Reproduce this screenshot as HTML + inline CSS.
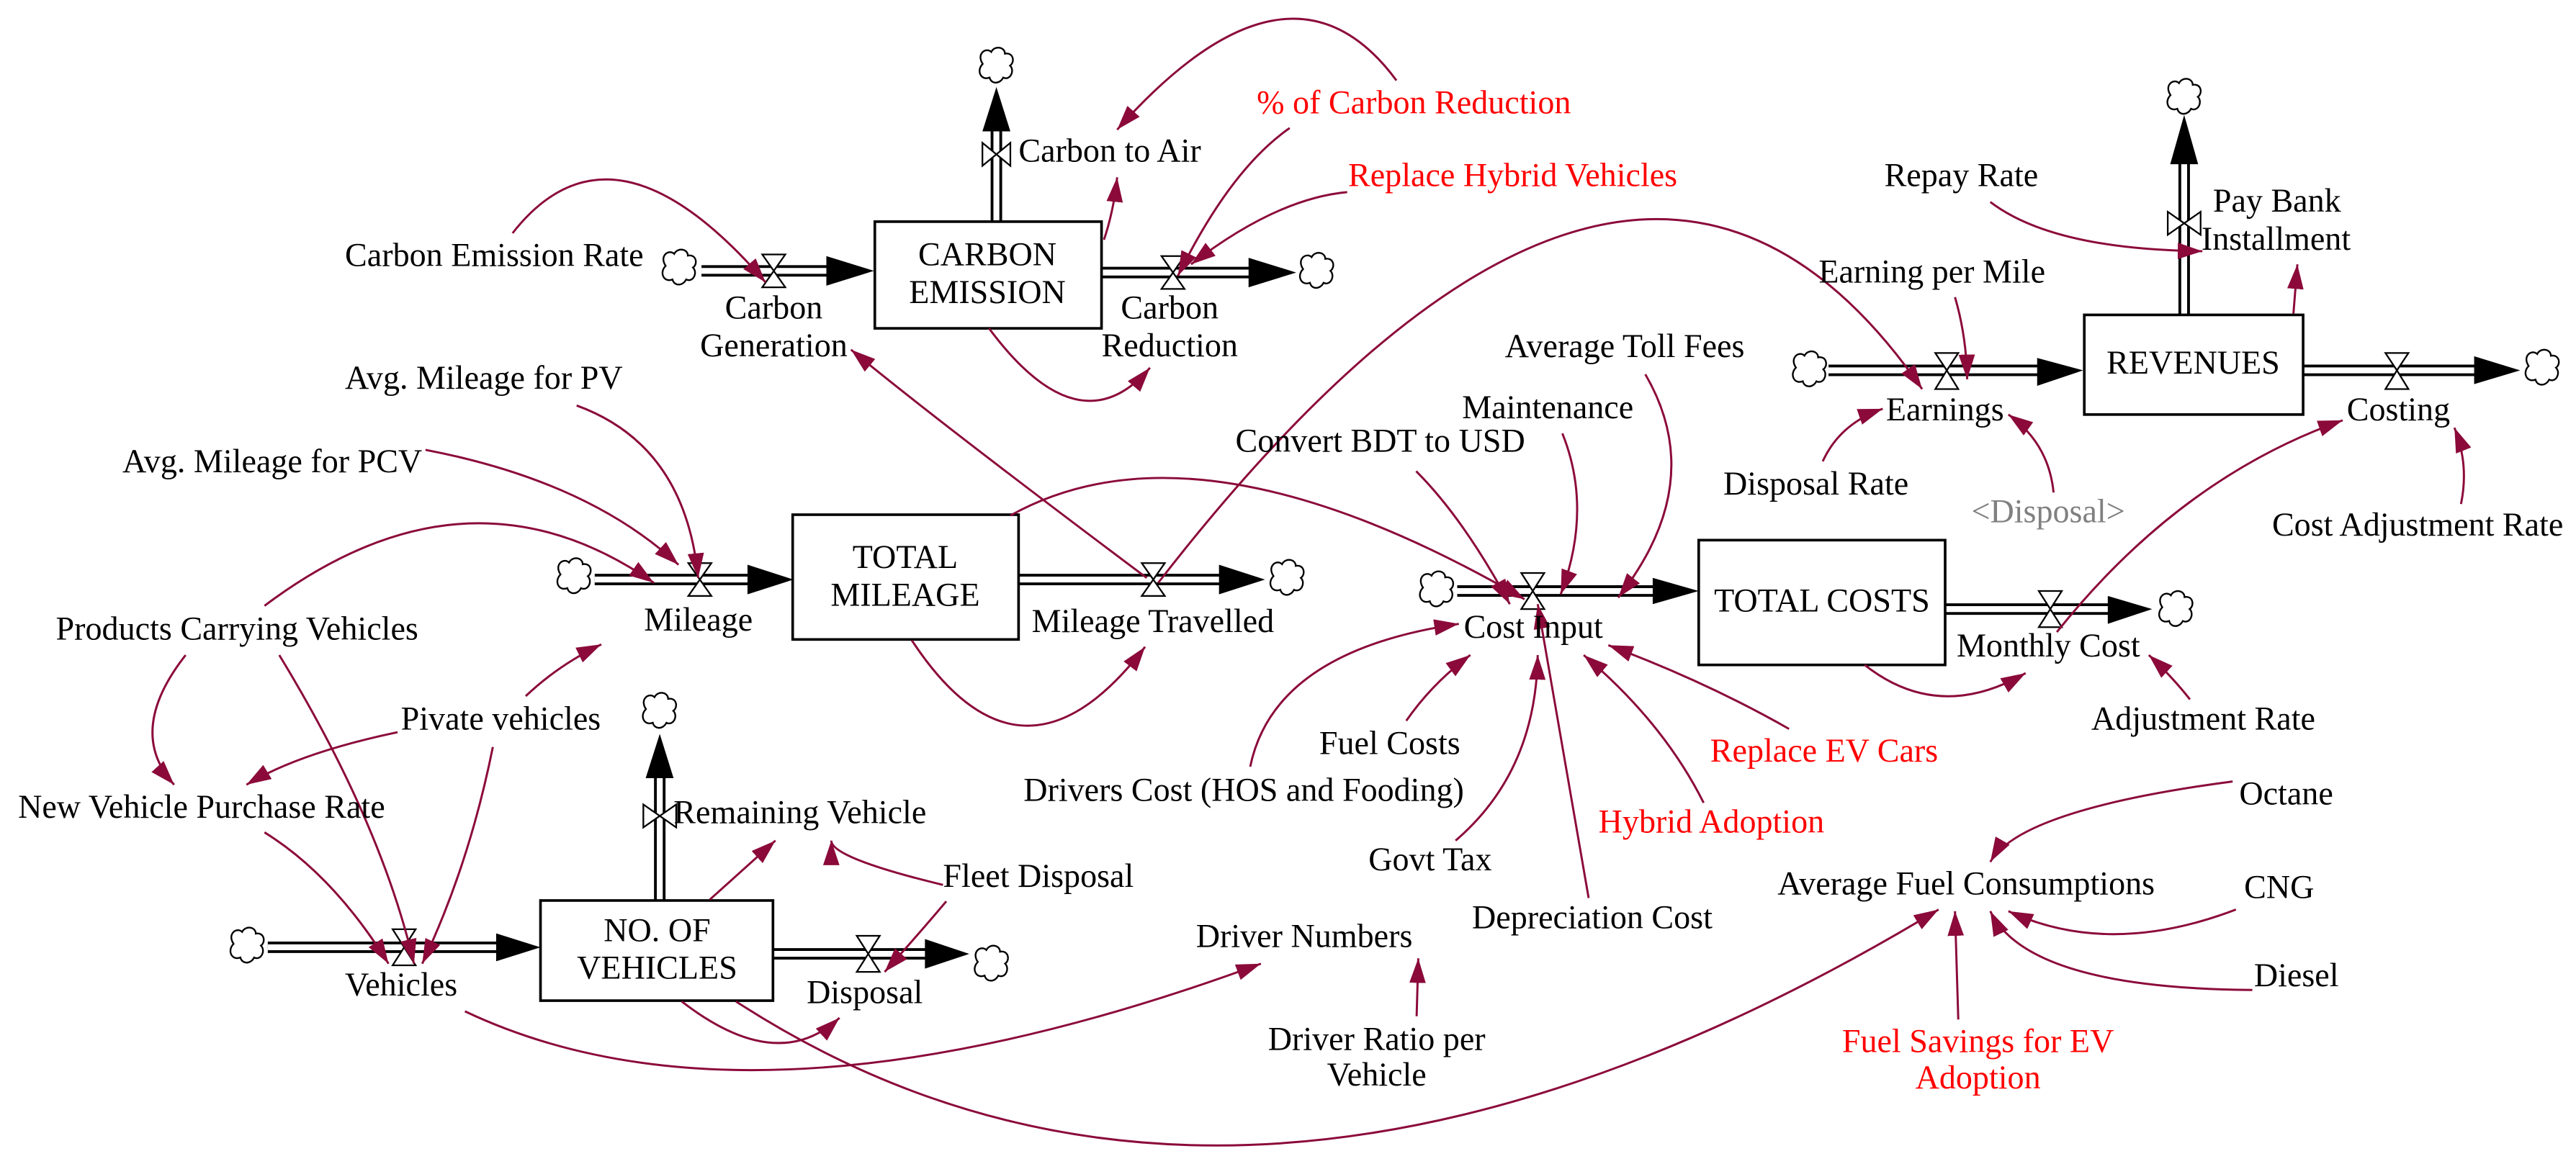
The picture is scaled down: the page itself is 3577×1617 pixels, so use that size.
<!DOCTYPE html>
<html><head><meta charset="utf-8"><style>
html,body{margin:0;padding:0;background:#fff;}
svg{display:block;}
text{font-family:"Liberation Serif","Times New Roman",Times,"DejaVu Serif",serif;font-size:20.2px;fill:#000;}
.r{fill:#ff0000;}
.g{fill:#808080;}
.m{text-anchor:middle;}
.l{fill:none;stroke:#8B0A3A;stroke-width:1.3;marker-end:url(#ah);}
.pipe{stroke:#000;stroke-width:7;}
.pipew{stroke:#fff;stroke-width:3.6;}
.box{fill:#fff;stroke:#000;stroke-width:1.6;}
.v{fill:#fff;stroke:#000;stroke-width:1;}
.cl{fill:#fff;stroke:#000;stroke-width:1;}
</style></head><body>
<svg width="3577" height="1617" viewBox="0 0 1568 709" preserveAspectRatio="none" xmlns="http://www.w3.org/2000/svg">
<defs>
<marker id="ah" markerUnits="userSpaceOnUse" markerWidth="18" markerHeight="12" refX="15" refY="5" orient="auto">
<path d="M0,0 L15,5 L0,10 Z" fill="#8B0A3A"/>
</marker>
<symbol id="cloud" viewBox="-13 -11 26 22" overflow="visible">
<path class="cl" d="M-8,-2 c-4,-6 2,-10 5,-7 c2,-4 8,-3 8,1 c5,-1 6,5 3,7 c3,3 0,9 -4,7 c-2,4 -7,4 -8,0 c-5,2 -8,-4 -4,-8 z"/>
</symbol>
</defs>
<rect width="1568" height="709" fill="#fff"/>

<g>
<line class="pipe" x1="427" y1="165" x2="505" y2="165"/><line class="pipew" x1="427" y1="165" x2="505" y2="165"/>
<path d="M503,156 L532,165 L503,174 Z"/>
<use href="#cloud" x="400" y="152" width="27" height="24"/>
<path class="v" d="M464,155 L478,155 L471,165 Z M464,175 L478,175 L471,165 Z"/>
<line class="pipe" x1="670" y1="166" x2="762" y2="166"/><line class="pipew" x1="670" y1="166" x2="762" y2="166"/>
<path d="M760,157 L789,166 L760,175 Z"/>
<use href="#cloud" x="788" y="154" width="27" height="24"/>
<path class="v" d="M707,156 L721,156 L714,166 Z M707,176 L721,176 L714,166 Z"/>
<line class="pipe" x1="362" y1="353" x2="457" y2="353"/><line class="pipew" x1="362" y1="353" x2="457" y2="353"/>
<path d="M455,344 L483,353 L455,362 Z"/>
<use href="#cloud" x="336" y="340" width="27" height="24"/>
<path class="v" d="M419,343 L433,343 L426,353 Z M419,363 L433,363 L426,353 Z"/>
<line class="pipe" x1="620" y1="353" x2="744" y2="353"/><line class="pipew" x1="620" y1="353" x2="744" y2="353"/>
<path d="M742,344 L770,353 L742,362 Z"/>
<use href="#cloud" x="770" y="341" width="27" height="24"/>
<path class="v" d="M695,343 L709,343 L702,353 Z M695,363 L709,363 L702,353 Z"/>
<line class="pipe" x1="163" y1="577" x2="304" y2="577"/><line class="pipew" x1="163" y1="577" x2="304" y2="577"/>
<path d="M302,568.5 L329,577 L302,585.5 Z"/>
<use href="#cloud" x="137" y="565" width="27" height="24"/>
<path class="v" d="M239,566 L253,566 L246,577 Z M239,588 L253,588 L246,577 Z"/>
<line class="pipe" x1="471" y1="581" x2="565" y2="581"/><line class="pipew" x1="471" y1="581" x2="565" y2="581"/>
<path d="M563,572 L590,581 L563,590 Z"/>
<use href="#cloud" x="590" y="576" width="27" height="24"/>
<path class="v" d="M521.5,570 L535.5,570 L528.5,581 Z M521.5,592 L535.5,592 L528.5,581 Z"/>
<line class="pipe" x1="887" y1="360" x2="1008" y2="360"/><line class="pipew" x1="887" y1="360" x2="1008" y2="360"/>
<path d="M1006,352 L1034,360 L1006,368 Z"/>
<use href="#cloud" x="861" y="348" width="27" height="24"/>
<path class="v" d="M926,349 L940,349 L933,360 Z M926,371 L940,371 L933,360 Z"/>
<line class="pipe" x1="1184" y1="371" x2="1285" y2="371"/><line class="pipew" x1="1184" y1="371" x2="1285" y2="371"/>
<path d="M1283,363 L1310,371 L1283,380 Z"/>
<use href="#cloud" x="1311" y="360" width="27" height="24"/>
<path class="v" d="M1241,360 L1255,360 L1248,371 Z M1241,382 L1255,382 L1248,371 Z"/>
<line class="pipe" x1="1113" y1="225.6" x2="1242" y2="225.6"/><line class="pipew" x1="1113" y1="225.6" x2="1242" y2="225.6"/>
<path d="M1240,218 L1268,225.6 L1240,235 Z"/>
<use href="#cloud" x="1088" y="214" width="27" height="24"/>
<path class="v" d="M1178,215 L1192,215 L1185,225.6 Z M1178,237 L1192,237 L1185,225.6 Z"/>
<line class="pipe" x1="1402" y1="225.6" x2="1508" y2="225.6"/><line class="pipew" x1="1402" y1="225.6" x2="1508" y2="225.6"/>
<path d="M1506,217 L1534,225.6 L1506,234 Z"/>
<use href="#cloud" x="1534" y="213" width="27" height="24"/>
<path class="v" d="M1452,215 L1466,215 L1459,225.6 Z M1452,237 L1466,237 L1459,225.6 Z"/>
</g>

<g>
<line class="pipe" x1="606.5" y1="136" x2="606.5" y2="78"/><line class="pipew" x1="606.5" y1="136" x2="606.5" y2="78"/>
<path d="M598,80 L606.5,53 L615,80 Z"/>
<use href="#cloud" x="593" y="29" width="27" height="24"/>
<path class="v" d="M598,87 L598,101 L606.5,94 Z M615,87 L615,101 L606.5,94 Z"/>
<line class="pipe" x1="401.6" y1="549" x2="401.6" y2="472"/><line class="pipew" x1="401.6" y1="549" x2="401.6" y2="472"/>
<path d="M393,474 L401.6,447 L410,474 Z"/>
<use href="#cloud" x="388" y="422" width="27" height="24"/>
<path class="v" d="M391.6,490 L391.6,504 L401.6,497 Z M411.6,490 L411.6,504 L401.6,497 Z"/>
<line class="pipe" x1="1329.5" y1="192" x2="1329.5" y2="98"/><line class="pipew" x1="1329.5" y1="192" x2="1329.5" y2="98"/>
<path d="M1321,100 L1329.5,70 L1338,100 Z"/>
<use href="#cloud" x="1316" y="48" width="27" height="24"/>
<path class="v" d="M1319.5,129 L1319.5,143 L1329.5,136 Z M1339.5,129 L1339.5,143 L1329.5,136 Z"/>
</g>

<rect class="box" x="532.5" y="135" width="138" height="65"/>
<rect class="box" x="482.5" y="313.5" width="137.5" height="76"/>
<rect class="box" x="329" y="548.5" width="141.5" height="61"/>
<rect class="box" x="1034" y="329" width="150" height="76"/>
<rect class="box" x="1268.7" y="191.8" width="133.2" height="60.7"/>

<g>
<path class="l" d="M312,142 Q373,64 466,172"/>
<path class="l" d="M672,146 Q678,128 680,108"/>
<path class="l" d="M602,200 Q657,274 700,224"/>
<path class="l" d="M698,352 Q570,256 518,213"/>
<path class="l" d="M850,49 Q785,-39 680,79"/>
<path class="l" d="M785,78 Q749,103 717,168"/>
<path class="l" d="M820,117 Q777,121 725,161"/>
<path class="l" d="M351,247 Q417,271 425,352"/>
<path class="l" d="M259,274 Q358,293 413,344"/>
<path class="l" d="M161,369 Q284.5,276 398,355"/>
<path class="l" d="M615,314 Q730,250 928,365"/>
<path class="l" d="M705,355 Q994,-18 1170,237"/>
<path class="l" d="M555,390 Q622,492 697,394"/>
<path class="l" d="M113,399 Q76.5,445.5 106,478"/>
<path class="l" d="M170,399 Q232,501 252,587"/>
<path class="l" d="M320,424 Q340,405 366,392.5"/>
<path class="l" d="M242,446 Q182,458.6 150,478"/>
<path class="l" d="M300,455 Q285.5,527 257,587"/>
<path class="l" d="M161,507 Q203,533 236.5,587"/>
<path class="l" d="M432,548 L472,512"/>
<path class="l" d="M574,539 Q506,522.5 506,512"/>
<path class="l" d="M576,549 Q560,568 538.5,592"/>
<path class="l" d="M415,610 Q473,655 511,620"/>
<path class="l" d="M283,616 Q460,700 767.5,587"/>
<path class="l" d="M448,610 Q756,810 1180,554"/>
<path class="l" d="M761,467 Q775.5,396.5 888,380"/>
<path class="l" d="M856,439 Q872,416 895,399"/>
<path class="l" d="M886,512 Q935,470 936,399"/>
<path class="l" d="M967,547 L936,368"/>
<path class="l" d="M1037,489 Q1012.5,440 964,399"/>
<path class="l" d="M1089,444 Q1039,415.5 979,393"/>
<path class="l" d="M1001.5,228 Q1040,294 985,364"/>
<path class="l" d="M951,264 Q969.5,310 950,362"/>
<path class="l" d="M862,287 Q891,316 919,368"/>
<path class="l" d="M1135,405 Q1180,440.5 1233,410"/>
<path class="l" d="M1333,426 Q1322,412 1308,399"/>
<path class="l" d="M1252,385 Q1327,291 1426,256"/>
<path class="l" d="M1498,307 Q1503,283 1494,260.5"/>
<path class="l" d="M1359,476 Q1230,493 1211.5,525"/>
<path class="l" d="M1361,554 Q1284,583.5 1222.5,555"/>
<path class="l" d="M1371,603 Q1234,602 1211.5,555"/>
<path class="l" d="M1192,621 L1190,555"/>
<path class="l" d="M1211.5,123 Q1249.4,152 1340.6,153"/>
<path class="l" d="M1396,191 L1398.4,161"/>
<path class="l" d="M1190,181 Q1197,205 1197.4,231"/>
<path class="l" d="M1109.5,281 Q1120,258 1146,249"/>
<path class="l" d="M1250,300 Q1247,270 1222.5,252.5"/>
<path class="l" d="M862.3,619 L863.3,583.7"/>
</g>

<text x="210" y="162">Carbon Emission Rate</text>
<text x="620" y="98.5">Carbon to Air</text>
<text class="r" x="765" y="69">% of Carbon Reduction</text>
<text class="r" x="820.6" y="113.3">Replace Hybrid Vehicles</text>
<text class="m" x="471" y="194">Carbon</text><text class="m" x="471" y="217">Generation</text>
<text class="m" x="601" y="161.5">CARBON</text><text class="m" x="601" y="184.6">EMISSION</text>
<text class="m" x="712" y="194">Carbon</text><text class="m" x="712" y="217">Reduction</text>
<text x="210" y="236.7">Avg. Mileage for PV</text>
<text x="74.5" y="287.7">Avg. Mileage for PCV</text>
<text class="m" x="551" y="346">TOTAL</text><text class="m" x="551" y="369">MILEAGE</text>
<text x="392" y="384">Mileage</text>
<text x="628" y="385">Mileage Travelled</text>
<text x="34" y="389.5">Products Carrying Vehicles</text>
<text x="244" y="444.3">Pivate vehicles</text>
<text x="11" y="498">New Vehicle Purchase Rate</text>
<text x="410" y="501.4">Remaining Vehicle</text>
<text x="574" y="540.3">Fleet Disposal</text>
<text class="m" x="400" y="573.4">NO. OF</text><text class="m" x="400" y="596.2">VEHICLES</text>
<text x="210" y="606.5">Vehicles</text>
<text x="491" y="611">Disposal</text>
<text x="728" y="576.8">Driver Numbers</text>
<text class="m" x="838" y="639.6">Driver Ratio per</text><text class="m" x="838" y="661.3">Vehicle</text>
<text x="623" y="487.7">Drivers Cost (HOS and Fooding)</text>
<text x="803" y="459.2">Fuel Costs</text>
<text x="833" y="530">Govt Tax</text>
<text x="896" y="565.4">Depreciation Cost</text>
<text class="r" x="973" y="507.2">Hybrid Adoption</text>
<text class="r" x="1041" y="463.8">Replace EV Cars</text>
<text x="891" y="388.4">Cost Input</text>
<text class="m" x="1109" y="372.4">TOTAL COSTS</text>
<text x="1191" y="399.8">Monthly Cost</text>
<text x="1273" y="444.3">Adjustment Rate</text>
<text x="1082" y="544.8">Average Fuel Consumptions</text>
<text x="1363" y="490">Octane</text>
<text x="1366" y="547">CNG</text>
<text x="1372" y="600.8">Diesel</text>
<text class="r m" x="1204" y="640.8">Fuel Savings for EV</text><text class="r m" x="1204" y="663">Adoption</text>
<text x="1147" y="113.3">Repay Rate</text>
<text x="1347" y="129">Pay Bank</text>
<text x="1340" y="152.2">Installment</text>
<text class="m" x="1335" y="227.6">REVENUES</text>
<text x="1107" y="172">Earning per Mile</text>
<text x="1148" y="256">Earnings</text>
<text x="1049" y="301.2">Disposal Rate</text>
<text class="g" x="1200" y="318.2">&lt;Disposal&gt;</text>
<text x="1428.5" y="256">Costing</text>
<text x="1383" y="326.2">Cost Adjustment Rate</text>
<text x="916" y="217.4">Average Toll Fees</text>
<text x="890" y="254.8">Maintenance</text>
<text x="752" y="275.2">Convert BDT to USD</text>
</svg>
</body></html>
